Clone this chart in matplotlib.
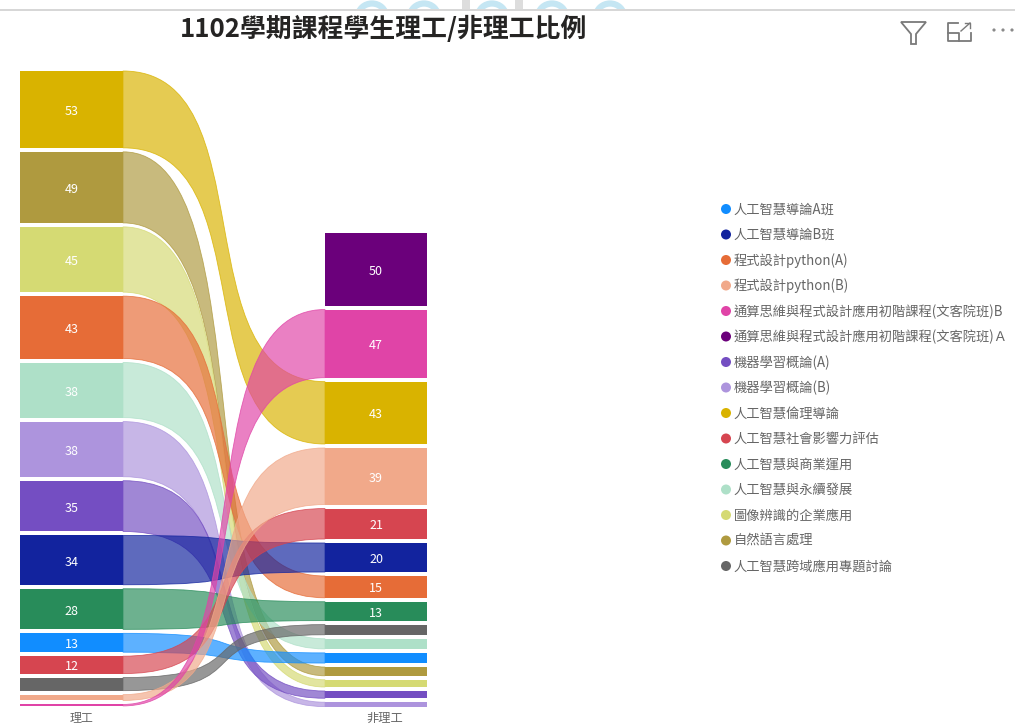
import matplotlib
matplotlib.use('Agg')
import matplotlib.pyplot as plt
from matplotlib.patches import PathPatch, Rectangle, Circle, Polygon, Arc
from matplotlib.path import Path

plt.rcParams['font.family'] = ['Noto Sans CJK TC', 'DejaVu Sans']

TITLE = '1102學期課程學生理工/非理工比例'
SIDE_LABELS = ['理工', '非理工']

courses = ['人工智慧導論A班', '人工智慧導論B班', '程式設計python(A)', '程式設計python(B)',
           '通算思維與程式設計應用初階課程(文客院班)B', '通算思維與程式設計應用初階課程(文客院班)Ａ',
           '機器學習概論(A)', '機器學習概論(B)', '人工智慧倫理導論', '人工智慧社會影響力評估',
           '人工智慧與商業運用', '人工智慧與永續發展', '圖像辨識的企業應用', '自然語言處理',
           '人工智慧跨域應用專題討論']
colors = ['#118DFF', '#12239E', '#E66C37', '#F1A98A', '#E044A7', '#6B007B', '#744EC2', '#AD94DD',
          '#D9B300', '#D64550', '#288C5A', '#AEE0C8', '#D5DA73', '#AF9A3F', '#666666']
science = [13, 34, 43, 4, 1, 0, 35, 38, 53, 12, 28, 38, 45, 49, 9]
non_science = [7, 20, 15, 39, 47, 50, 5, 3, 43, 21, 13, 7, 5, 6, 7]

# top to bottom order of the nodes on each side
left_order = [8, 13, 12, 2, 11, 7, 6, 1, 10, 0, 9, 14, 3, 4]
right_order = [5, 4, 8, 3, 9, 1, 2, 10, 14, 11, 0, 13, 12, 6, 7]

# layout in pixels
W, H = 1015, 724
PX_PER_UNIT = 1.45
GAP = 4
LEFT_X = (20, 123)
RIGHT_X = (325, 427)
LEFT_TOP = 71
RIGHT_TOP = 233
MIN_LABEL = 12
CURVE = 0.72


def stack(order, values, top):
    spans = {}
    y = top
    for idx in order:
        h = values[idx] * PX_PER_UNIT
        spans[idx] = (y, y + h)
        y += h + GAP
    return spans


def ribbon(ax, x0, x1, a, b, color):
    c0 = x0 + (x1 - x0) * CURVE
    c1 = x1 - (x1 - x0) * CURVE
    verts = [(x0, a[0]), (c0, a[0]), (c1, b[0]), (x1, b[0]),
             (x1, b[1]), (c1, b[1]), (c0, a[1]), (x0, a[1]), (x0, a[0])]
    codes = [Path.MOVETO, Path.CURVE4, Path.CURVE4, Path.CURVE4, Path.LINETO,
             Path.CURVE4, Path.CURVE4, Path.CURVE4, Path.CLOSEPOLY]
    ax.add_patch(PathPatch(Path(verts, codes), facecolor=color, edgecolor='none', alpha=0.68, zorder=2))
    ax.add_patch(PathPatch(Path(verts, codes), facecolor='none', edgecolor=color, lw=0.6, alpha=0.8, zorder=2))


fig = plt.figure(figsize=(W / 100, H / 100), dpi=100)
ax = fig.add_axes([0, 0, 1, 1])
ax.set_xlim(0, W)
ax.set_ylim(H, 0)
ax.axis('off')

left = stack(left_order, science, LEFT_TOP)
right = stack(right_order, non_science, RIGHT_TOP)

for idx in left_order:
    ribbon(ax, LEFT_X[1], RIGHT_X[0], left[idx], right[idx], colors[idx])

for spans, values, xs in [(left, science, LEFT_X), (right, non_science, RIGHT_X)]:
    for idx, (y0, y1) in spans.items():
        ax.add_patch(Rectangle((xs[0], y0), xs[1] - xs[0], y1 - y0, facecolor=colors[idx], edgecolor='none', zorder=3))
        if values[idx] >= MIN_LABEL:
            ax.text(sum(xs) / 2, (y0 + y1) / 2 + 2, str(values[idx]), color='white', fontsize=9,
                    ha='center', va='center', zorder=4)

ax.text(81, 718, SIDE_LABELS[0], color='#666666', fontsize=8.6, ha='center', va='center')
ax.text(385, 718, SIDE_LABELS[1], color='#666666', fontsize=8.8, ha='center', va='center')

# legend
for i, (name, c) in enumerate(zip(courses, colors)):
    y = 209 + 25.5 * i
    ax.add_patch(Circle((726, y), 5, facecolor=c, edgecolor='none'))
    ax.text(733.5, y + 0.5, name, color='#666666', fontsize=9.55, ha='left', va='center')

ax.text(180, 29, TITLE, color='#252423', fontsize=18.6, fontweight='bold', ha='left', va='center')

# page behind the visual, cut off by the top border
for cx in [372, 424, 492, 552, 610]:
    ax.add_patch(Arc((cx, 16.5), 28, 26, theta1=180, theta2=360, color='#C5E6F3', lw=4.5, zorder=0.2))
ax.add_patch(Rectangle((462, 0), 8, 9, facecolor='#DDDDDD', edgecolor='none', zorder=0.3))
ax.add_patch(Rectangle((515, 0), 8, 9, facecolor='#DDDDDD', edgecolor='none', zorder=0.3))
ax.add_patch(Rectangle((0, 9), W, H - 9, facecolor='white', edgecolor='none', zorder=0.5))
ax.plot([0, W], [9.5, 9.5], color='#CFCFCF', lw=1.2, zorder=1.5)

# header icons
icon = '#7A7A7A'
ax.add_patch(Polygon([(901, 22), (926, 22), (916, 34), (916, 44), (911, 44), (911, 34)],
                     closed=True, fill=False, edgecolor=icon, lw=1.3))
ax.plot([958, 948, 948, 971, 971], [23, 23, 41, 41, 33], color=icon, lw=1.3)
ax.plot([948, 959, 959], [33, 33, 41], color=icon, lw=1.3)
ax.plot([961, 970], [31, 23], color=icon, lw=1.0)
ax.plot([965, 970, 970], [23, 23, 28], color=icon, lw=1.0)
for x in [994, 1003, 1012]:
    ax.add_patch(Circle((x, 30), 1.6, facecolor='#8A8A8A', edgecolor='none'))

fig.savefig('out.png', dpi=100)
